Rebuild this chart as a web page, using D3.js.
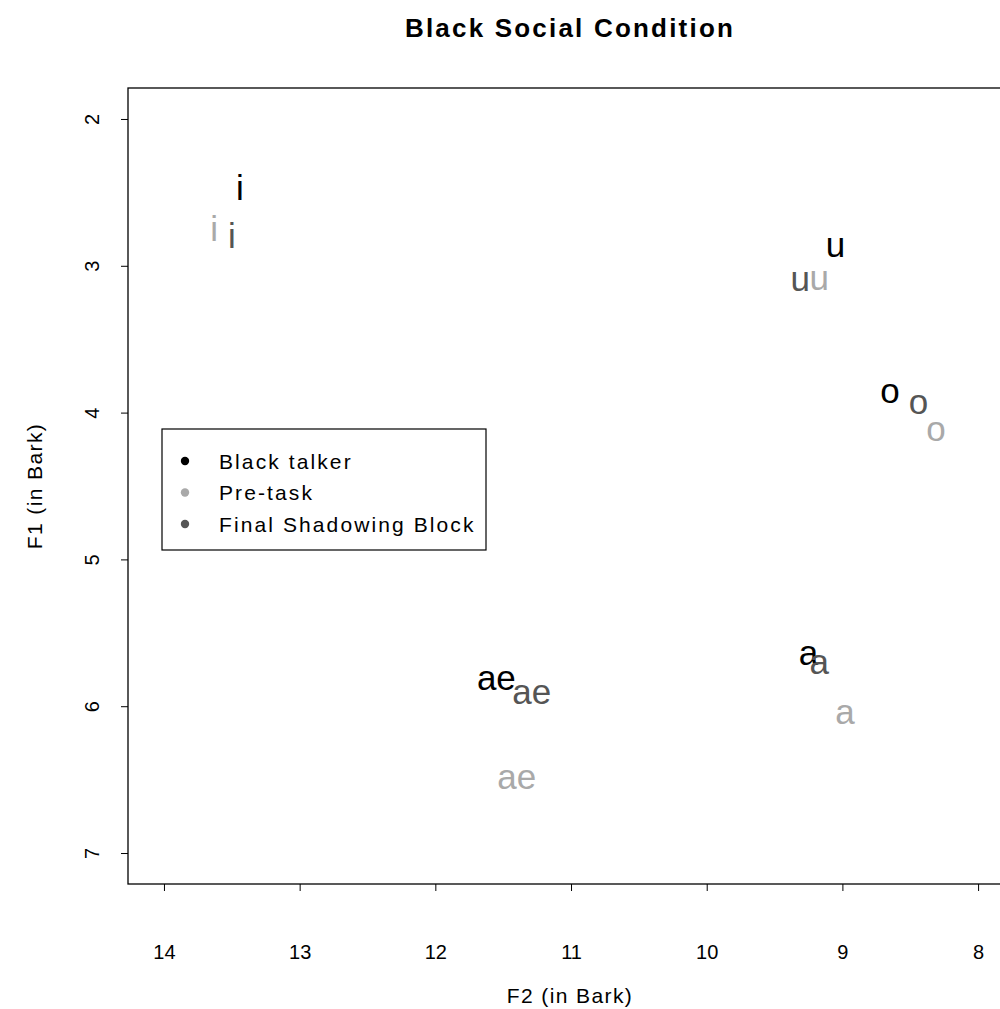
<!DOCTYPE html>
<html>
<head>
<meta charset="utf-8">
<script src="https://cdn.jsdelivr.net/npm/d3@7"></script>
<style>
	body { margin: 0; background: #fff; }
	svg { font-family: 'Liberation Sans', Arial, sans-serif; }
</style>
</head>
<body>
<svg></svg>
<script>
// vowel means, F2 / F1 in Bark
const vowels = ['i', 'u', 'o', 'ae', 'a'];
const talkerF2 = [13.44, 9.05, 8.65, 11.55, 9.25];
const talkerF1 = [2.49, 2.88, 3.87, 5.83, 5.66];
const preF2 = [13.63, 9.17, 8.31, 11.40, 8.98];
const preF1 = [2.77, 3.10, 4.13, 6.50, 6.06];
const finalF2 = [13.50, 9.31, 8.44, 11.29, 9.17];
const finalF1 = [2.82, 3.11, 3.95, 5.92, 5.72];

const groupNames = ['Black talker', 'Pre-task', 'Final Shadowing Block'];
const groupColors = ['#000000', '#a9a9a9', '#555555'];

const xTicks = [14, 13, 12, 11, 10, 9, 8];
const yTicks = [2, 3, 4, 5, 6, 7];

const width = 1000;
const height = 1009;
const margin = { top: 88, right: -12, bottom: 125, left: 128 };
const innerWidth = width - margin.left - margin.right;
const innerHeight = height - margin.top - margin.bottom;

const svg = d3.select('svg')
	.attr('width', width)
	.attr('height', height);

const xScale = d3.scaleLinear()
	.domain([14.265, 7.75])
	.range([0, innerWidth]);

const yScale = d3.scaleLinear()
	.domain([1.789, 7.211])
	.range([0, innerHeight]);

const g = svg.append('g')
	.attr('transform', `translate(${margin.left},${margin.top})`);

// x axis
const xAxisG = g.append('g')
	.attr('transform', `translate(0,${innerHeight})`)
	.call(d3.axisBottom(xScale).tickValues(xTicks).tickSize(7).tickFormat(d3.format('d')));
xAxisG.select('.domain').remove();
xAxisG.selectAll('text')
	.attr('font-size', 20)
	.attr('font-family', 'Liberation Sans, Arial, sans-serif')
	.attr('fill', '#000')
	.attr('dy', '0')
	.attr('y', 75);
xAxisG.selectAll('line').attr('stroke', '#000');

// y axis
const yAxisG = g.append('g')
	.call(d3.axisLeft(yScale).tickValues(yTicks).tickSize(7).tickFormat(d3.format('d')));
yAxisG.select('.domain').remove();
yAxisG.selectAll('line').attr('stroke', '#000');
yAxisG.selectAll('text')
	.attr('font-size', 20)
	.attr('font-family', 'Liberation Sans, Arial, sans-serif')
	.attr('fill', '#000')
	.attr('x', null)
	.attr('dy', null)
	.attr('text-anchor', 'middle')
	.attr('transform', 'translate(-29,0) rotate(-90)')
	.attr('y', 0);

// plot box
g.append('rect')
	.attr('width', innerWidth)
	.attr('height', innerHeight)
	.attr('fill', 'none')
	.attr('stroke', '#000')
	.attr('stroke-width', 1.3);

// vowel labels
const groups = [
	{ f2: talkerF2, f1: talkerF1, color: groupColors[0] },
	{ f2: preF2, f1: preF1, color: groupColors[1] },
	{ f2: finalF2, f1: finalF1, color: groupColors[2] }
];
groups.forEach(grp => {
	g.selectAll(null)
		.data(vowels)
		.enter()
		.append('text')
			.attr('x', (d, i) => xScale(grp.f2[i]))
			.attr('y', (d, i) => yScale(grp.f1[i]))
			.attr('dy', '0.26em')
			.attr('text-anchor', 'middle')
			.attr('font-size', 35)
			.attr('fill', grp.color)
			.text(d => d);
});

// legend
const legend = svg.append('g')
	.attr('transform', 'translate(162,429)');
legend.append('rect')
	.attr('width', 324)
	.attr('height', 121)
	.attr('fill', '#fff')
	.attr('stroke', '#000')
	.attr('stroke-width', 1.2);
const rows = legend.selectAll('g.row')
	.data(groupNames)
	.enter()
	.append('g')
		.attr('class', 'row')
		.attr('transform', (d, i) => `translate(0,${32 + i * 31.5})`);
rows.append('circle')
	.attr('cx', 23)
	.attr('r', 4.2)
	.attr('fill', (d, i) => groupColors[i]);
rows.append('text')
	.attr('x', 57)
	.attr('dy', '0.36em')
	.attr('font-size', 21)
	.attr('letter-spacing', 2.1)
	.attr('fill', '#000')
	.text(d => d);

// title and axis labels
svg.append('text')
	.attr('x', margin.left + innerWidth / 2)
	.attr('y', 37)
	.attr('text-anchor', 'middle')
	.attr('font-weight', 'bold')
	.attr('font-size', 26)
	.attr('letter-spacing', 2.2)
	.text('Black Social Condition');

svg.append('text')
	.attr('x', margin.left + innerWidth / 2)
	.attr('y', 1003)
	.attr('text-anchor', 'middle')
	.attr('font-size', 21)
	.attr('letter-spacing', 1.4)
	.text('F2 (in Bark)');

svg.append('text')
	.attr('transform', `translate(42,${margin.top + innerHeight / 2}) rotate(-90)`)
	.attr('text-anchor', 'middle')
	.attr('font-size', 21)
	.attr('letter-spacing', 1.4)
	.text('F1 (in Bark)');
</script>
</body>
</html>
